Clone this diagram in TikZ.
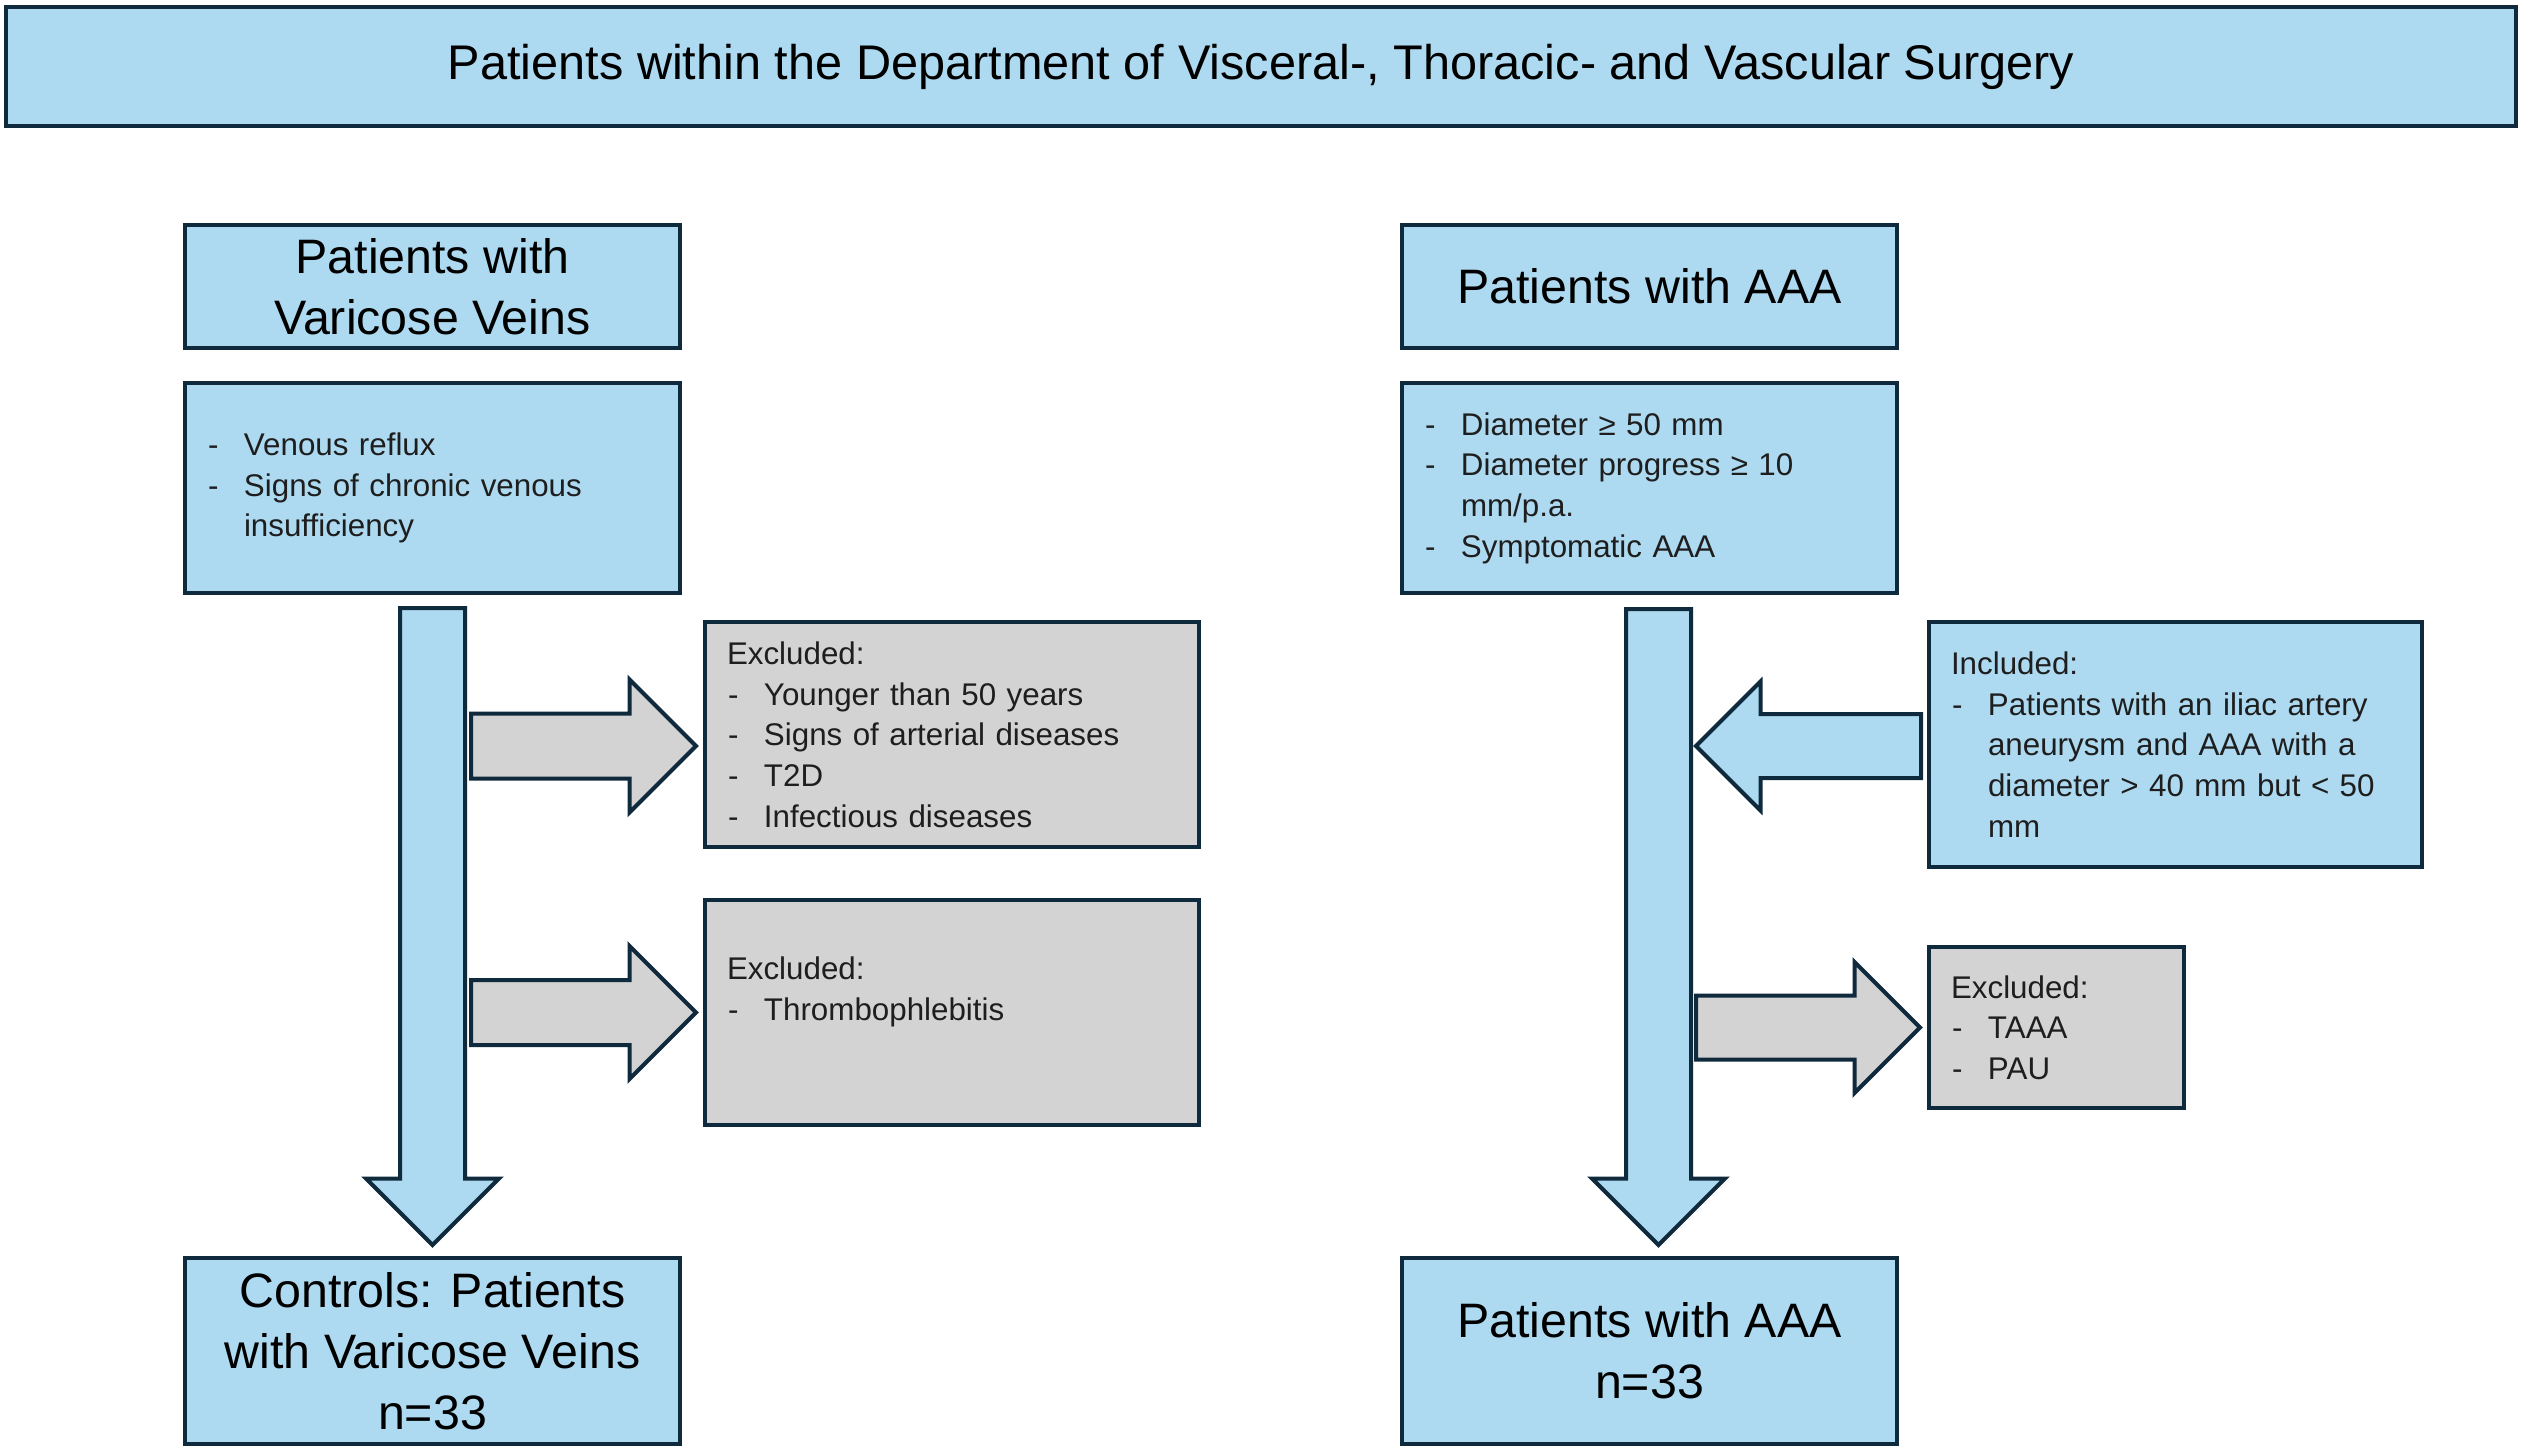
\documentclass[tikz,border=0pt]{standalone}
\usepackage{fontspec}
\setmainfont{Liberation Sans}
\usetikzlibrary{calc}
\definecolor{boxBlue}{HTML}{ADDAF0}
\definecolor{boxGrey}{HTML}{D3D3D3}
\definecolor{edgeNavy}{HTML}{0F2A3C}
\definecolor{inkGrey}{HTML}{1E1E1E}
\tikzstyle{box} = [rectangle, draw=edgeNavy, line width=1.2pt, inner xsep=6.6pt, inner ysep=0pt]
\tikzstyle{blueBox} = [box, fill=boxBlue]
\tikzstyle{greyBox} = [box, fill=boxGrey]
\tikzstyle{headText} = [font=\fontsize{14.5}{18.3}\selectfont, align=center, text=black]
\tikzstyle{listText} = [font=\fontsize{9.4}{12.2}\selectfont, align=left, text=inkGrey]
\tikzstyle{fatArrow} = [draw=edgeNavy, line width=1.2pt, line join=miter]
\newcommand{\itm}[1]{\makebox[11.1pt][l]{\hspace*{0.3pt}-}#1}
\newcommand{\cnt}[1]{\hspace*{11.1pt}#1}
% block arrow: fill, tail, tip, half shaft, half head
\newcommand{\blockArrow}[5]{%
  \draw[fatArrow,#1] let \p1=#2, \p2=#3, \n1={atan2(\y2-\y1,\x2-\x1)}, \n2={veclen(\x2-\x1,\y2-\y1)} in
    [shift={(\p1)}, rotate=\n1] (0pt,#4) -- ({\n2*1pt-#5},#4) -- ({\n2*1pt-#5},#5) -- ({\n2*1pt},0pt)
    -- ({\n2*1pt-#5},-#5) -- ({\n2*1pt-#5},-#4) -- (0pt,-#4) -- cycle;}
\begin{document}
\begin{tikzpicture}[x=0.3pt, y=-0.3pt]
  \useasboundingbox (0,0) rectangle (2522,1451);
  \node[blueBox, minimum width=753pt, minimum height=35.7pt] (title) at (1261,66.5)
    {\fontsize{14.6}{18}\selectfont Patients within the Department of Visceral-, Thoracic- and Vascular Surgery};
  % left column
  \node[blueBox, headText, minimum width=148.5pt, minimum height=36.9pt] (vvL) at (432.5,286.5) {Patients with\\Varicose Veins};
  \node[blueBox, listText, text width=135.3pt, minimum height=63pt] (critL) at (432.5,488)
    {\itm{Venous reflux}\\\itm{Signs of chronic venous}\\\cnt{insufficiency}};
  \node[blueBox, headText, minimum width=148.5pt, minimum height=55.8pt] (outL) at (432.5,1351) {Controls: Patients\\with Varicose Veins\\n=33};
  \node[greyBox, listText, text width=135pt, minimum height=67.5pt] (exc1) at (952,734.5)
    {Excluded:\\\itm{Younger than 50 years}\\\itm{Signs of arterial diseases}\\\itm{T2D}\\\itm{Infectious diseases}};
  \node[greyBox, listText, text width=135pt, minimum height=67.5pt] (exc2) at (952,1012.5)
    {\strut\\Excluded:\\\itm{Thrombophlebitis}\\\strut\\\strut};
  % right column
  \node[blueBox, headText, minimum width=148.5pt, minimum height=36.9pt] (aaaR) at (1649.5,286.5) {Patients with AAA};
  \node[blueBox, listText, text width=135.3pt, minimum height=63pt] (critR) at (1649.5,488)
    {\itm{Diameter ≥ 50 mm}\\\itm{Diameter progress ≥ 10}\\\cnt{mm/p.a.}\\\itm{Symptomatic AAA}};
  \node[blueBox, headText, minimum width=148.5pt, minimum height=55.8pt] (outR) at (1649.5,1351) {Patients with AAA\\n=33};
  \node[blueBox, listText, text width=134.7pt, minimum height=73.5pt] (incl) at (2175.5,744.5)
    {Included:\\\itm{Patients with an iliac artery}\\\cnt{aneurysm and AAA with a}\\\cnt{diameter > 40 mm but < 50}\\\cnt{mm}};
  \node[greyBox, listText, text width=63.3pt, minimum height=48.3pt] (exc3) at (2056.5,1027.5)
    {Excluded:\\\itm{TAAA}\\\itm{PAU}};
  % big arrows
  \blockArrow{fill=boxBlue}{($(critL.south)+(0,13)$)}{($(outL.north)+(0,-11)$)}{9.75pt}{19.95pt}
  \blockArrow{fill=boxGrey}{($(exc1.west)+(-232,11.5)$)}{($(exc1.west)+(-7,11.5)$)}{9.75pt}{19.95pt}
  \blockArrow{fill=boxGrey}{($(exc2.west)+(-232,0)$)}{($(exc2.west)+(-7,0)$)}{9.75pt}{19.95pt}
  \blockArrow{fill=boxBlue}{($(critR.south)+(9,14)$)}{($(outR.north)+(9,-11)$)}{9.75pt}{19.95pt}
  \blockArrow{fill=boxBlue}{($(incl.west)+(-6,1.5)$)}{($(incl.west)+(-231,1.5)$)}{9.6pt}{19.35pt}
  \blockArrow{fill=boxGrey}{($(exc3.west)+(-231,0)$)}{($(exc3.west)+(-7,0)$)}{9.6pt}{19.65pt}
\end{tikzpicture}
\end{document}
